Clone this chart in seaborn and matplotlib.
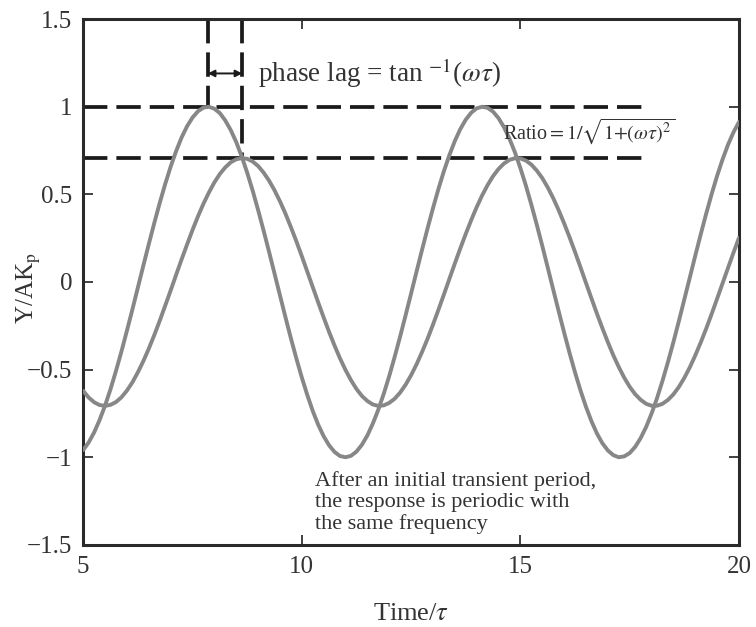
import pandas as pd
import matplotlib
matplotlib.use("Agg")
import matplotlib.pyplot as plt
import seaborn as sns

# values, every 0.125 in Time/tau from 5 to 20
time = [5.0 + 0.125 * i for i in range(121)]
y_input = [-0.959, -0.916, -0.859, -0.788, -0.706, -0.612, -0.508, -0.397, -0.279, -0.158,
           -0.033, 0.092, 0.215, 0.335, 0.450, 0.558, 0.657, 0.746, 0.824, 0.888,
           0.938, 0.974, 0.995, 1.000, 0.989, 0.964, 0.922, 0.867, 0.799, 0.717,
           0.625, 0.523, 0.412, 0.295, 0.174, 0.050, -0.075, -0.199, -0.320, -0.435,
           -0.544, -0.644, -0.735, -0.814, -0.880, -0.932, -0.970, -0.993, -1.000, -0.992,
           -0.968, -0.929, -0.876, -0.808, -0.729, -0.638, -0.537, -0.427, -0.311, -0.190,
           -0.066, 0.059, 0.183, 0.304, 0.420, 0.530, 0.632, 0.723, 0.804, 0.872,
           0.926, 0.966, 0.991, 1.000, 0.994, 0.972, 0.935, 0.883, 0.818, 0.740,
           0.650, 0.551, 0.442, 0.327, 0.207, 0.083, -0.042, -0.166, -0.288, -0.405,
           -0.516, -0.619, -0.712, -0.794, -0.864, -0.920, -0.961, -0.988, -1.000, -0.995,
           -0.976, -0.941, -0.891, -0.828, -0.751, -0.663, -0.564, -0.457, -0.343, -0.223,
           -0.099, 0.025, 0.150, 0.272, 0.390, 0.502, 0.606, 0.700, 0.784, 0.855,
           0.913]
y_output = [-0.621, -0.659, -0.686, -0.702, -0.707, -0.701, -0.685, -0.658, -0.620, -0.573,
            -0.516, -0.452, -0.381, -0.304, -0.222, -0.136, -0.049, 0.040, 0.128, 0.213,
            0.296, 0.374, 0.446, 0.510, 0.568, 0.616, 0.654, 0.683, 0.700, 0.707,
            0.703, 0.688, 0.662, 0.625, 0.579, 0.524, 0.461, 0.391, 0.314, 0.233,
            0.148, 0.060, -0.028, -0.116, -0.202, -0.285, -0.363, -0.436, -0.502, -0.560,
            -0.610, -0.650, -0.679, -0.699, -0.707, -0.704, -0.690, -0.666, -0.631, -0.586,
            -0.532, -0.470, -0.400, -0.325, -0.244, -0.159, -0.072, 0.017, 0.105, 0.191,
            0.274, 0.353, 0.427, 0.494, 0.553, 0.604, 0.645, 0.676, 0.697, 0.706,
            0.705, 0.693, 0.670, 0.636, 0.593, 0.540, 0.479, 0.410, 0.335, 0.255,
            0.171, 0.084, -0.005, -0.093, -0.180, -0.263, -0.343, -0.418, -0.485, -0.546,
            -0.598, -0.640, -0.672, -0.695, -0.706, -0.706, -0.695, -0.673, -0.641, -0.599,
            -0.547, -0.487, -0.419, -0.345, -0.266, -0.182, -0.095, -0.007, 0.081, 0.168,
            0.252]

x_ticks = [5, 10, 15, 20]
y_ticks = [-1.5, -1, -0.5, 0, 0.5, 1, 1.5]
y_tick_labels = ["\u22121.5", "\u22121", "\u22120.5", "0", "0.5", "1", "1.5"]

peak_in_t, peak_in_y = 7.85, 1.0
peak_out_t, peak_out_y = 8.64, 0.707

sns.set_style("ticks")
plt.rcParams["font.family"] = ["Liberation Serif", "DejaVu Serif"]
plt.rcParams["mathtext.fontset"] = "stix"

df = pd.DataFrame({"t": time + time,
                   "y": y_input + y_output,
                   "series": ["input"] * len(time) + ["output"] * len(time)})

fig = plt.figure(figsize=(7.56, 6.27), dpi=100)
ax = fig.add_axes([0.110, 0.131, 0.8675, 0.8385])

sns.lineplot(data=df, x="t", y="y", units="series", estimator=None,
             color="#878787", linewidth=2.8, ax=ax, zorder=3)

dash = (0, (6.5, 2.4))
line_kw = dict(color="#1a1a1a", lw=2.7, linestyle=dash, zorder=2)
ax.plot([5, 17.92], [peak_in_y, peak_in_y], **line_kw)
ax.plot([5, 17.8], [peak_out_y, peak_out_y], **line_kw)
ax.plot([peak_in_t, peak_in_t], [1.5, peak_in_y], **line_kw)
ax.plot([peak_out_t, peak_out_t], [1.5, peak_out_y], **line_kw)

ax.annotate("", xy=(peak_in_t, 1.19), xytext=(peak_out_t, 1.19),
            arrowprops=dict(arrowstyle="<|-|>", color="#1a1a1a", lw=1.4,
                            mutation_scale=10, shrinkA=0, shrinkB=0))

ax.text(9.0, 1.19, r"phase lag = tan $^{-1}$($\omega\tau$)", fontsize=19.5,
        color="#333333", va="center", ha="left")
ax.text(14.6, 0.86, r"Ratio$=1/\sqrt{1{+}(\omega\tau)^2}$", fontsize=14.5,
        color="#333333", va="center", ha="left")
ax.text(10.3, -1.08, "After an initial transient period,\nthe response is periodic with\nthe same frequency",
        fontsize=16, color="#333333", va="top", ha="left", linespacing=1.15)

ax.set_xlim(5, 20)
ax.set_ylim(-1.5, 1.5)
ax.set_xticks(x_ticks)
ax.set_xticklabels([str(v) for v in x_ticks])
ax.set_yticks(y_ticks)
ax.set_yticklabels(y_tick_labels)
ax.tick_params(direction="in", length=7, width=1.3, top=True, right=True,
               labelsize=18, colors="#333333", pad=8)
for side in ax.spines.values():
    side.set_linewidth(2.2)
    side.set_color("#2a2a2a")

ax.set_xlabel(r"Time/$\tau$", fontsize=19, color="#333333", labelpad=18)
ax.set_ylabel(r"Y/AK$_\mathrm{p}$", fontsize=18, color="#333333")
ax.yaxis.set_label_coords(-0.061, 0.489)

fig.savefig("out.png", dpi=100)
